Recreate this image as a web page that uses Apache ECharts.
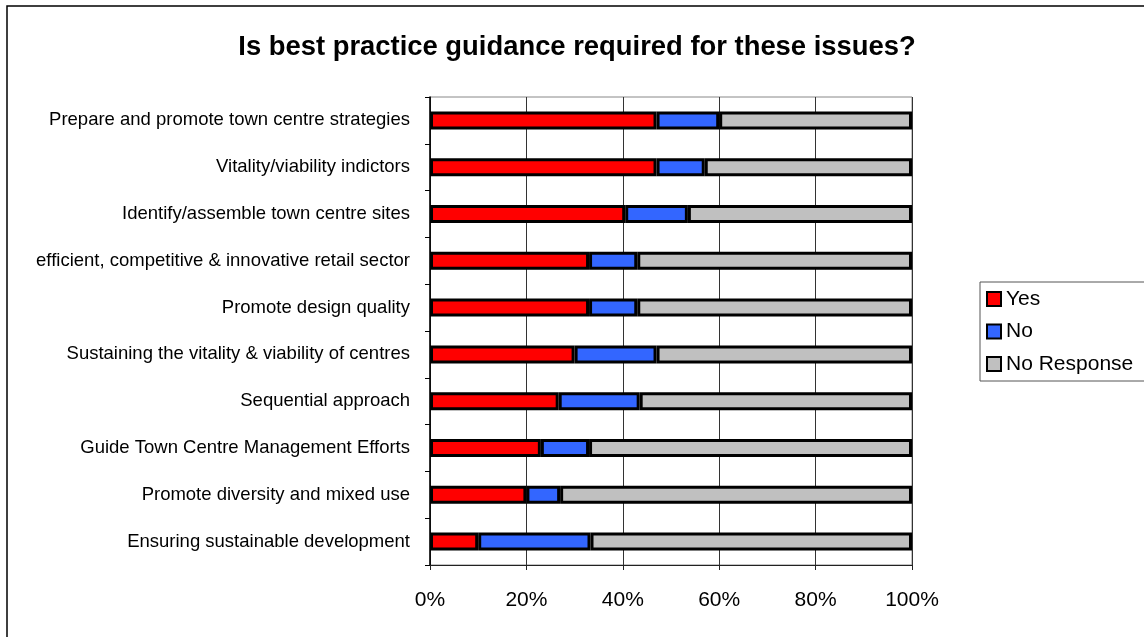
<!DOCTYPE html>
<html>
<head>
<meta charset="utf-8">
<script src="https://cdn.jsdelivr.net/npm/echarts@6/dist/echarts.min.js"></script>
<style>
  html, body { margin: 0; padding: 0; background: #fff; }
  #chart { width: 1144px; height: 637px; }
</style>
</head>
<body>
<div id="chart"></div>
<script>
// categories, top to bottom
const issues = [
  'Prepare and promote town centre strategies',
  'Vitality/viability indictors',
  'Identify/assemble town centre sites',
  'efficient, competitive & innovative retail sector',
  'Promote design quality',
  'Sustaining the vitality & viability of centres',
  'Sequential approach',
  'Guide Town Centre Management Efforts',
  'Promote diversity and mixed use',
  'Ensuring sustainable development'
];
const yesVals = [47, 47, 40.5, 33, 33, 30, 26.7, 23, 20, 10];
const noVals = [13, 10, 13, 10, 10, 17, 16.8, 10, 7, 23.3];
const noRespVals = [40, 43, 46.5, 57, 57, 53, 56.5, 67, 73, 66.7];
const xTicks = [0, 20, 40, 60, 80, 100];

const chart = echarts.init(document.getElementById('chart'));
const font = 'Liberation Sans, Arial, sans-serif';

function barSeries(name, data, color) {
  return {
    name: name,
    type: 'bar',
    stack: 'all',
    barWidth: 18,
    data: data,
    itemStyle: { color: color, borderColor: '#000', borderWidth: 3 }
  };
}

chart.setOption({
  animation: false,
  textStyle: { fontFamily: font },
  title: {
    text: 'Is best practice guidance required for these issues?',
    left: 572,
    textAlign: 'center',
    top: 29,
    textStyle: { fontSize: 27.4, fontWeight: 'bold', color: '#000', fontFamily: font }
  },
  graphic: [{
    type: 'rect',
    shape: { x: 7, y: 6, width: 1300, height: 800 },
    style: { fill: 'none', stroke: '#000', lineWidth: 1.5 },
    silent: true,
    z: -10
  }],
  legend: {
    orient: 'vertical',
    left: 980,
    top: 282,
    padding: [6.5, 40, 6.5, 6],
    icon: 'rect',
    itemWidth: 14,
    itemHeight: 14,
    itemGap: 11.5,
    borderColor: '#555',
    borderWidth: 1,
    textStyle: { fontSize: 21, color: '#000' },
    data: ['Yes', 'No', 'No Response']
  },
  grid: {
    left: 430,
    right: 232,
    top: 97,
    bottom: 72,
    show: true,
    borderColor: '#888',
    borderWidth: 1
  },
  xAxis: {
    type: 'value',
    min: xTicks[0],
    max: xTicks[xTicks.length - 1],
    interval: 20,
    axisLine: { show: true, lineStyle: { color: '#222', width: 1 } },
    axisTick: { show: true, length: 5, lineStyle: { color: '#222' } },
    axisLabel: { formatter: '{value}%', fontSize: 21, color: '#000', margin: 25 },
    splitLine: { show: true, lineStyle: { color: '#333', width: 1 } }
  },
  yAxis: {
    type: 'category',
    inverse: true,
    data: issues,
    axisLine: { show: true, lineStyle: { color: '#000', width: 1.5 } },
    axisTick: { show: true, length: 5, lineStyle: { color: '#000' } },
    axisLabel: { fontSize: 18.5, color: '#000', margin: 20 }
  },
  series: [
    barSeries('Yes', yesVals, '#ff0000'),
    barSeries('No', noVals, '#3366ff'),
    barSeries('No Response', noRespVals, '#c0c0c0')
  ]
});
</script>
</body>
</html>
